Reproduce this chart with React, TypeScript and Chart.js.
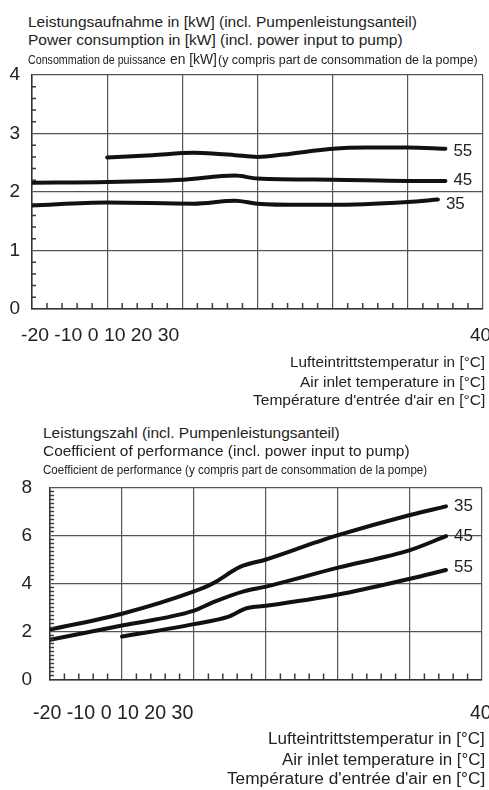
import React, { useEffect, useLayoutEffect, useRef, useState } from "react";
import { Chart, registerables } from "chart.js";
Chart.register(...registerables);

// ---------- data ----------
// Upper chart: power consumption [kW] vs air inlet temperature [°C]
const powerX55 = [-10, -4, 1.5, 4, 7, 10, 13.5, 20, 24.5, 30, 35];
const power55 = [2.59, 2.63, 2.67, 2.66, 2.63, 2.6, 2.64, 2.74, 2.76, 2.76, 2.74];
const powerX45 = [-20, -10, 0, 7, 10, 20, 30, 35];
const power45 = [2.16, 2.17, 2.21, 2.28, 2.23, 2.21, 2.19, 2.19];
const powerX35 = [-20, -10, 1.5, 7, 10, 16, 20, 30, 34];
const power35 = [1.77, 1.82, 1.8, 1.85, 1.8, 1.78, 1.78, 1.83, 1.87];

// Lower chart: coefficient of performance vs air inlet temperature [°C]
const copX35 = [-20, -10, 0, 2.6, 6.4, 10, 17, 20, 30, 35];
const cop35 = [2.08, 2.74, 3.67, 4.0, 4.69, 5.0, 5.72, 6.01, 6.85, 7.21];
const copX45 = [-20, -10, 0, 2.6, 6.9, 10, 20, 30, 35];
const cop45 = [1.66, 2.25, 2.87, 3.21, 3.67, 3.87, 4.66, 5.39, 5.97];
const copX55 = [-10, 0, 4.7, 7.3, 10, 20, 30, 35];
const cop55 = [1.79, 2.31, 2.61, 2.97, 3.07, 3.54, 4.2, 4.56];

const seriesNames = ["55", "45", "35"];
const xTickText = "-20 -10 0 10 20 30";
const xTickLast = "40";

const FONT = "'Liberation Sans', Arial, Helvetica, sans-serif";
const INK = "#222";

const toPoints = (xs: number[], ys: number[]) => xs.map((x, i) => ({ x, y: ys[i] }));

const near = (v: number, m: number) => {
  const r = v / m;
  return Math.abs(r - Math.round(r)) < 1e-6;
};

type Cfg = {
  datasets: any[];
  yMax: number;
  yMajor: number;
  yStep: number;
  yWidth: number;
  yPad: number;
  padRight: number;
};

const X_MAJOR = 10;
const PAD = 25;

// minor tick marks (inward) + curve end labels
function makeDecor(cfg: Cfg) {
  return {
    id: "decor",
    afterDatasetsDraw(c: any) {
      const ctx = c.ctx;
      const area = c.chartArea;
      const xs = c.scales.x;
      const ys = c.scales.y;
      ctx.save();
      ctx.strokeStyle = "#3a3a3a";
      ctx.lineWidth = 1.5;
      ctx.beginPath();
      for (const t of xs.ticks) {
        if (near(t.value, X_MAJOR)) continue;
        const px = xs.getPixelForValue(t.value);
        ctx.moveTo(px, area.bottom);
        ctx.lineTo(px, area.bottom - 6);
      }
      for (const t of ys.ticks) {
        if (near(t.value, cfg.yMajor)) continue;
        const py = ys.getPixelForValue(t.value);
        ctx.moveTo(area.left, py);
        ctx.lineTo(area.left + 4, py);
      }
      ctx.stroke();
      ctx.restore();

      ctx.save();
      ctx.fillStyle = INK;
      ctx.font = `17px ${FONT}`;
      ctx.textBaseline = "middle";
      ctx.textAlign = "left";
      c.data.datasets.forEach((ds: any, i: number) => {
        const meta = c.getDatasetMeta(i);
        const last = meta.data[meta.data.length - 1];
        if (!last) return;
        ctx.fillText(ds.label, last.x + 8, last.y + (ds.labelDy || 0));
      });
      ctx.restore();
    },
  };
}

function PanelChart({ cfg, areaTop, areaBottom }: { cfg: Cfg; areaTop: number; areaBottom: number }) {
  const ref = useRef<HTMLCanvasElement>(null);
  useEffect(() => {
    if (!ref.current) return;
    const chart = new Chart(ref.current, {
      type: "line",
      data: {
        datasets: cfg.datasets.map((d) => ({
          ...d,
          borderColor: "#111",
          borderWidth: 4,
          pointRadius: 0,
          cubicInterpolationMode: "monotone",
          borderCapStyle: "round",
          borderJoinStyle: "round",
          fill: false,
        })),
      },
      options: {
        animation: false,
        responsive: true,
        maintainAspectRatio: false,
        layout: { padding: { top: PAD, bottom: PAD, left: 0, right: cfg.padRight } },
        plugins: {
          legend: { display: false },
          tooltip: { enabled: false },
        },
        scales: {
          x: {
            type: "linear",
            min: -20,
            max: 40,
            ticks: { display: false, stepSize: 2, autoSkip: false, maxTicksLimit: 100 },
            grid: {
              drawTicks: false,
              color: (g: any) => (g.tick && near(g.tick.value, X_MAJOR) ? "#555" : "rgba(0,0,0,0)"),
              lineWidth: 1.2,
            },
            border: { display: true, color: "#333", width: 1.5 },
            afterFit: (s: any) => {
              s.height = 0;
            },
          },
          y: {
            type: "linear",
            min: 0,
            max: cfg.yMax,
            ticks: {
              stepSize: cfg.yStep,
              autoSkip: false,
              maxTicksLimit: 100,
              padding: cfg.yPad,
              color: INK,
              font: { family: FONT, size: 19 },
              callback: (v: any) => (near(Number(v), cfg.yMajor) ? String(Math.round(Number(v))) : ""),
            },
            grid: {
              drawTicks: false,
              color: (g: any) => (g.tick && near(g.tick.value, cfg.yMajor) ? "#555" : "rgba(0,0,0,0)"),
              lineWidth: 1.2,
            },
            border: { display: true, color: "#333", width: 1.5 },
            afterFit: (s: any) => {
              s.width = cfg.yWidth;
            },
          },
        },
      },
      plugins: [makeDecor(cfg)],
    } as any);
    return () => chart.destroy();
  }, []);
  return (
    <div
      style={{
        position: "absolute",
        left: 0,
        top: areaTop - PAD,
        width: 489,
        height: areaBottom - areaTop + 2 * PAD,
      }}
    >
      <canvas ref={ref} />
    </div>
  );
}

// A line of real text, condensed/stretched horizontally to span `width` pixels.
function Fit({
  children,
  left,
  right,
  cy,
  size,
  width,
}: {
  children: any;
  left?: number;
  right?: number;
  cy: number;
  size: number;
  width?: number;
}) {
  const ref = useRef<HTMLSpanElement>(null);
  const [k, setK] = useState(1);
  useLayoutEffect(() => {
    if (!ref.current || !width) return;
    const w = ref.current.offsetWidth;
    if (w > 0) setK(width / w);
  }, [width]);
  return (
    <div
      style={{
        position: "absolute",
        left,
        right,
        top: cy - size * 0.55,
        fontFamily: FONT,
        fontSize: size,
        lineHeight: `${size * 1.1}px`,
        color: INK,
        whiteSpace: "nowrap",
        pointerEvents: "none",
      }}
    >
      <span
        ref={ref}
        style={{
          display: "inline-block",
          transform: `scaleX(${k})`,
          transformOrigin: right !== undefined ? "right center" : "left center",
        }}
      >
        {children}
      </span>
    </div>
  );
}

export default function App() {
  const topCfg: Cfg = {
    datasets: [
      { label: seriesNames[0], data: toPoints(powerX55, power55), labelDy: 3 },
      { label: seriesNames[1], data: toPoints(powerX45, power45), labelDy: -1 },
      { label: seriesNames[2], data: toPoints(powerX35, power35), labelDy: 5 },
    ],
    yMax: 4,
    yMajor: 1,
    yStep: 0.2,
    yWidth: 32,
    yPad: 12,
    padRight: 6,
  };
  const botCfg: Cfg = {
    datasets: [
      { label: seriesNames[2], data: toPoints(copX35, cop35), labelDy: 0 },
      { label: seriesNames[1], data: toPoints(copX45, cop45), labelDy: 0 },
      { label: seriesNames[0], data: toPoints(copX55, cop55), labelDy: -3 },
    ],
    yMax: 8,
    yMajor: 2,
    yStep: 1 / 6,
    yWidth: 50,
    yPad: 18,
    padRight: 7,
  };
  return (
    <div
      style={{
        position: "absolute",
        left: 0,
        top: 0,
        width: 489,
        height: 790,
        background: "#fff",
        overflow: "hidden",
      }}
    >
      <PanelChart cfg={topCfg} areaTop={75} areaBottom={309} />
      <PanelChart cfg={botCfg} areaTop={483} areaBottom={684} />

      {/* upper panel texts */}
      <Fit left={28} cy={22} size={15} width={389}>Leistungsaufnahme in [kW] (incl. Pumpenleistungsanteil)</Fit>
      <Fit left={28} cy={40} size={15} width={375}>Power consumption in [kW] (incl. power input to pump)</Fit>
      <Fit left={28} cy={60} size={13} width={138}>Consommation de puissance</Fit>
      <Fit left={170} cy={59} size={15} width={47}>en [kW]</Fit>
      <Fit left={218} cy={60} size={13} width={260}>(y compris part de consommation de la pompe)</Fit>
      <Fit left={21} cy={335} size={19} width={158}>{xTickText}</Fit>
      <Fit left={470} cy={335} size={19}>{xTickLast}</Fit>
      <Fit right={4} cy={362} size={15} width={195}>Lufteintrittstemperatur in [°C]</Fit>
      <Fit right={4} cy={382} size={15} width={185}>Air inlet temperature in [°C]</Fit>
      <Fit right={4} cy={400} size={15} width={232}>Température d'entrée d'air en [°C]</Fit>

      {/* lower panel texts */}
      <Fit left={43} cy={433} size={15} width={297}>Leistungszahl (incl. Pumpenleistungsanteil)</Fit>
      <Fit left={43} cy={451} size={15} width={367}>Coefficient of performance (incl. power input to pump)</Fit>
      <Fit left={43} cy={470} size={13} width={384}>
        Coefficient de performance (y compris part de consommation de la pompe)
      </Fit>
      <Fit left={33} cy={713} size={19.5} width={160}>{xTickText}</Fit>
      <Fit left={470} cy={713} size={19.5}>{xTickLast}</Fit>
      <Fit right={4} cy={739} size={16} width={217}>Lufteintrittstemperatur in [°C]</Fit>
      <Fit right={4} cy={760} size={16} width={203}>Air inlet temperature in [°C]</Fit>
      <Fit right={4} cy={779} size={16} width={258}>Température d'entrée d'air en [°C]</Fit>
    </div>
  );
}
